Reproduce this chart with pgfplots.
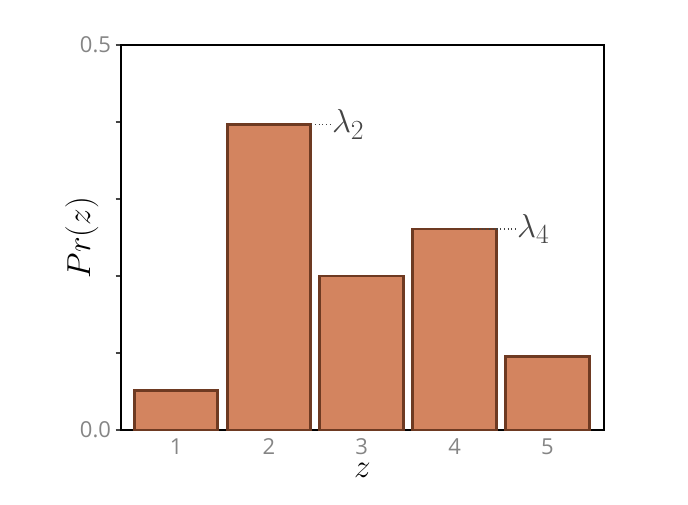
\documentclass[border=0pt]{standalone}
\usepackage{pgfplots}
\pgfplotsset{compat=1.18}
\usepackage{fontspec}
\setmainfont{Open Sans}
\definecolor{barfill}{HTML}{D3845F}
\definecolor{baredge}{HTML}{6E3A22}
\definecolor{ticklab}{HTML}{858585}
\definecolor{annot}{HTML}{444444}
\begin{document}
\begin{tikzpicture}
\path (0,0) rectangle (516pt,378pt);
\begin{axis}[
  at={(90.75pt,55.5pt)}, anchor=south west,
  scale only axis, width=362.25pt, height=288.75pt,
  xmin=0.407, xmax=5.61, ymin=0, ymax=0.5,
  axis line style={black, line width=1.6pt},
  ybar, bar width=0.9,
  xtick={1,2,3,4,5},
  ytick={0,0.1,0.2,0.3,0.4,0.5},
  yticklabels={0.0,,,,,0.5},
  tick style={color=annot, line width=0.8pt},
  x tick style={draw=none},
  tick align=outside, ytick pos=left, xtick pos=bottom,
  major tick length=4pt,
  /pgf/number format/assume math mode=true,
  tick label style={font=\fontsize{16.5}{19}\selectfont, text=ticklab},
  xticklabel style={inner sep=0pt, yshift=-2.5pt},
  xlabel={$z$}, ylabel={$Pr(z)$},
  xlabel style={at={(axis description cs:0.5,-0.105)}, anchor=center, inner sep=0pt, font=\fontsize{24.88}{30}\selectfont},
  ylabel style={at={(axis description cs:-0.081,0.5)}, anchor=center, font=\fontsize{24.88}{30}\selectfont},
  clip=false,
]
\addplot[fill=barfill, draw=baredge, line width=2.2pt] coordinates {(1,0.051) (2,0.397) (3,0.2) (4,0.261) (5,0.096)};
\draw[dotted, annot, line width=0.8pt] (axis cs:2.455,0.397) -- (axis cs:2.66,0.397) node[right, inner sep=1pt, text=annot, font=\fontsize{24.88}{28}\selectfont] {$\lambda_2$};
\draw[dotted, annot, line width=0.8pt] (axis cs:4.17,0.261) -- (axis cs:4.655,0.261) node[right, inner sep=1pt, text=annot, font=\fontsize{24.88}{28}\selectfont] {$\lambda_4$};
\end{axis}
\end{tikzpicture}
\end{document}
